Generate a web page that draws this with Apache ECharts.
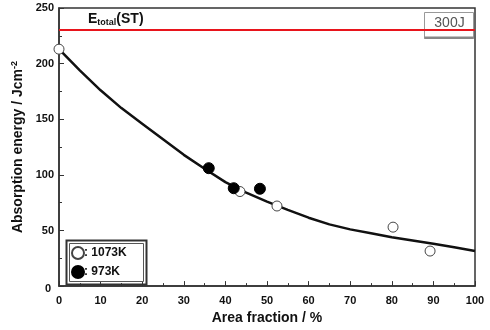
<!DOCTYPE html>
<html>
<head>
<meta charset="utf-8">
<script src="https://cdn.jsdelivr.net/npm/echarts@6/dist/echarts.min.js"></script>
<style>
  html, body { margin: 0; padding: 0; background: #fff; }
  #chart { width: 490px; height: 330px; }
</style>
</head>
<body>
<div id="chart"></div>
<script>
// values
let fitCurve = [[0, 213], [5, 194], [10, 176], [15, 160], [20, 146], [25, 132], [30, 118], [35, 105.5],
    [40, 93.5], [45, 84], [50, 76], [55, 68.5], [60, 61.5], [65, 55.5], [70, 51], [75, 47.5], [80, 44],
    [85, 41], [90, 38], [95, 35], [100, 31.5]];
let pts1073 = [[0, 213], [43.5, 85], [52.4, 72], [80.3, 53], [89.2, 31.5]];
let pts973 = [[36, 106], [42, 88], [48.3, 87.5]];
let totalST = 230;
let totalLabel = '300J';

const FONT = '"Liberation Sans", Arial, sans-serif';

let myChart = echarts.init(document.getElementById('chart'));

let option = {
    animation: false,
    textStyle: {fontFamily: FONT},
    grid: {
        left: 59, right: 15, top: 8, bottom: 43,
        show: true, borderColor: '#333', borderWidth: 1.5
    },
    xAxis: {
        type: 'value', min: 0, max: 100, interval: 10,
        name: 'Area fraction / %', nameLocation: 'middle', nameGap: 24,
        nameTextStyle: {fontFamily: FONT, fontSize: 14, fontWeight: 'bold', color: '#111'},
        axisLine: {show: true, lineStyle: {color: '#333', width: 1.5}},
        axisTick: {inside: true, length: 5, lineStyle: {color: '#333'}},
        minorTick: {show: true, splitNumber: 2, length: 3, lineStyle: {color: '#333'}},
        splitLine: {show: false},
        axisLabel: {fontFamily: FONT, fontSize: 11, fontWeight: 'bold', color: '#111', margin: 9}
    },
    yAxis: {
        type: 'value', min: 0, max: 250, interval: 50,
        name: 'Absorption energy / Jcm{sup|-2}', nameLocation: 'middle', nameGap: 29, nameRotate: 90,
        nameTextStyle: {
            fontFamily: FONT, fontSize: 14, fontWeight: 'bold', color: '#111',
            rich: {sup: {fontSize: 9, fontWeight: 'bold', verticalAlign: 'top', padding: [0, 0, 6, 0], color: '#111'}}
        },
        axisLine: {show: true, lineStyle: {color: '#333', width: 1.5}},
        axisTick: {inside: true, length: 5, lineStyle: {color: '#333'}},
        minorTick: {show: true, splitNumber: 2, length: 3, lineStyle: {color: '#333'}},
        splitLine: {show: false},
        axisLabel: {
            fontFamily: FONT, fontSize: 11, fontWeight: 'bold', color: '#111', margin: 5,
            formatter: function (v) { return v === 0 ? '{z|0}' : String(v); },
            rich: {z: {fontFamily: FONT, fontSize: 11, fontWeight: 'bold', color: '#111', padding: [6, 3, 0, 0]}}
        }
    },
    legend: {
        orient: 'vertical', left: 71, top: 246,
        itemWidth: 12, itemHeight: 12, itemGap: 5,
        padding: 0,
        icon: 'circle',
        formatter: ': {name}',
        textStyle: {fontFamily: FONT, fontSize: 12, fontWeight: 'bold', color: '#111', padding: [0, 0, 0, -5]},
        data: ['1073K', '973K']
    },
    graphic: [
        {
            type: 'rect', left: 64, top: 238,
            shape: {width: 80, height: 44},
            style: {fill: 'none', stroke: '#333', lineWidth: 2}, z: 5
        },
        {
            type: 'rect', left: 67, top: 241,
            shape: {width: 74, height: 38},
            style: {fill: 'none', stroke: '#555', lineWidth: 1}, z: 5
        },
        {
            type: 'text', left: 88, top: 12,
            style: {
                text: '{e|E}{s|total}{e|(ST)}',
                rich: {
                    e: {fontFamily: FONT, fontSize: 14, fontWeight: 'bold', fill: '#111'},
                    s: {fontFamily: FONT, fontSize: 9, fontWeight: 'bold', fill: '#111', padding: [8, 0, 0, 0]}
                }
            }
        },
        {
            type: 'group', left: 424, top: 12, z: 10,
            children: [
                {type: 'rect', shape: {x: 0, y: 0, width: 49, height: 26}, style: {fill: '#fff', stroke: '#999', lineWidth: 1}},
                {type: 'rect', shape: {x: 0, y: 24, width: 49, height: 2.5}, style: {fill: '#888'}},
                {type: 'text', style: {x: 25, y: 11, text: totalLabel, align: 'center', verticalAlign: 'middle',
                    fontFamily: FONT, fontSize: 14, fill: '#555'}}
            ]
        }
    ],
    series: [
        {
            name: 'fit', type: 'line', data: fitCurve, smooth: false, showSymbol: false,
            lineStyle: {color: '#111', width: 2.5, join: 'round'}, z: 2,
            markLine: {
                silent: true, symbol: 'none', label: {show: false},
                lineStyle: {color: '#e8141c', width: 2, type: 'solid'},
                data: [{yAxis: totalST}]
            }
        },
        {
            name: '1073K', type: 'scatter', data: pts1073, symbol: 'circle', symbolSize: 10,
            itemStyle: {color: '#fff', borderColor: '#444', borderWidth: 1, opacity: 1}, z: 4
        },
        {
            name: '973K', type: 'scatter', data: pts973, symbol: 'circle', symbolSize: 11,
            itemStyle: {color: '#000', borderColor: '#000', borderWidth: 1, opacity: 1}, z: 5
        }
    ]
};

myChart.setOption(option);
</script>
</body>
</html>
